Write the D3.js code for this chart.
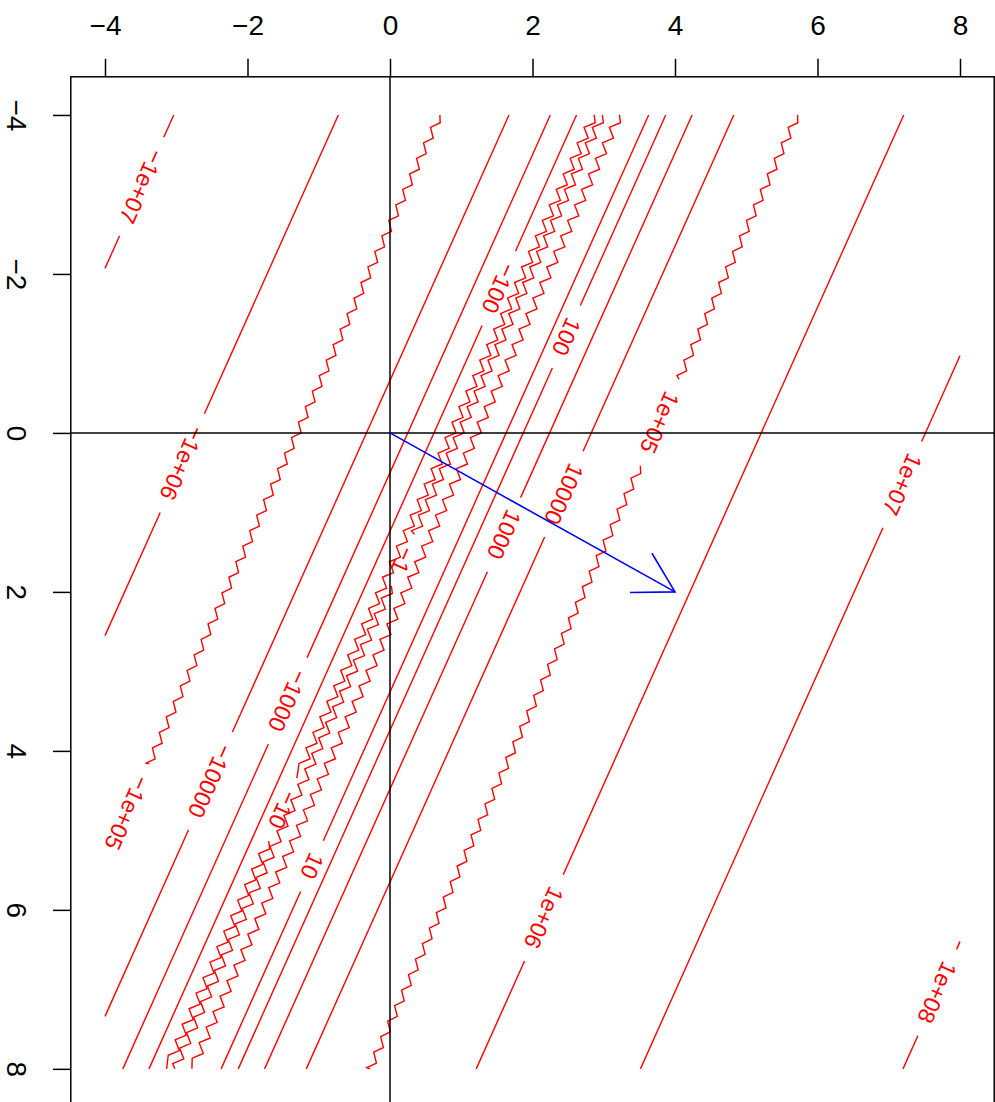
<!DOCTYPE html>
<html><head><meta charset="utf-8">
<script src="https://cdn.jsdelivr.net/npm/d3@7"></script>
<style>body{margin:0;background:#fff} svg{display:block}</style>
</head><body><svg id="c" width="995" height="1102"></svg>
<script>
// ---- data ----
const xTicks = [-4, -2, 0, 2, 4, 6, 8];
const yTicks = [-4, -2, 0, 2, 4, 6, 8];
const dataExtent = [-4, 8];
const levelValues = [-1e7, -1e6, -1e5, -1e4, -1e3, -100, -10, -1, 1, 10, 100, 1e3, 1e4, 1e5, 1e6, 1e7, 1e8];
const levelLabels = ["\u22121e+07", "\u22121e+06", "\u22121e+05", "\u221210000", "\u22121000", "\u2212100", "\u221210", "\u22121", "1", "10", "100", "1000", "10000", "1e+05", "1e+06", "1e+07", "1e+08"];
// each contour is (nearly) the straight line 2x + y = intercept
const levelIntercepts = [-10.07, -5.45, -2.6, -0.66, 0.5, 1.235, 1.73, 1.96, 2.44, 3.26, 3.74, 4.48, 5.65, 7.44, 10.42, 15.03, 22.4];
// y (data units) of each contour label's centre; null = no label visible
const labelAtY = [-3.1, 0.38, 4.78, 4.38, 3.37, -1.82, 4.74, 1.6, null, 5.45, -1.21, 1.28, 0.77, -0.13, 6.1, 0.65, 7.04];
const noisyLevels = [-1e5, -10, -1, 1, 1e5];
const arrowFrom = [0, 0];
const arrowTo = [4, 2];

// ---- layout / style ----
const FONT = "'Liberation Sans', Arial, Helvetica, sans-serif";
const RED = "#ff0000", BLUE = "#0000ff";
const svg = d3.select("#c");
const span = dataExtent[1] - dataExtent[0];
const pad = 0.04 * span;
const x = d3.scaleLinear().domain([dataExtent[0] - pad, dataExtent[1] + pad]).range([70.8, 994.2]);
const y = d3.scaleLinear().domain([dataExtent[0] - pad, dataExtent[1] + pad]).range([76.8, 1107]);

const line = d3.line();

function jagPoints(A, B, amp, period) {
  const dx = B[0] - A[0], dy = B[1] - A[1], L = Math.hypot(dx, dy);
  if (L < 1) return [A, B];
  const ux = dx / L, uy = dy / L;
  const pts = [A];
  for (let t = period * 0.5; t < L - period * 0.3; t += period) {
    pts.push([A[0] + ux * t + amp, A[1] + uy * t]);
    const t2 = t + period * 0.3;
    pts.push([A[0] + ux * t2 - amp, A[1] + uy * t2]);
  }
  pts.push(B);
  return pts;
}

const gC = svg.append("g");
const gL = svg.append("g");

levelValues.forEach((lev, i) => {
  const u = levelIntercepts[i];
  const ya = Math.max(dataExtent[0], u - 2 * dataExtent[1]);
  const yb = Math.min(dataExtent[1], u - 2 * dataExtent[0]);
  if (ya >= yb) return;
  const P0 = [x((u - ya) / 2), y(ya)];
  const P1 = [x((u - yb) / 2), y(yb)];
  const L = Math.hypot(P1[0] - P0[0], P1[1] - P0[1]);
  const ux = (P1[0] - P0[0]) / L, uy = (P1[1] - P0[1]) / L;
  let segs = [[0, L]];
  if (labelAtY[i] !== null) {
    const ly = labelAtY[i];
    const Pc = [x((u - ly) / 2), y(ly)];
    const ang = Math.atan2(uy, ux) * 180 / Math.PI;
    const t = gL.append("text")
      .attr("transform", `translate(${Pc[0]},${Pc[1]}) rotate(${ang})`)
      .attr("text-anchor", "middle")
      .attr("dominant-baseline", "central")
      .attr("font-family", FONT)
      .attr("font-size", 23)
      .attr("fill", RED)
      .text(levelLabels[i]);
    const len = t.node().getComputedTextLength();
    const half = (len + 30) / 2;
    const tc = Math.hypot(Pc[0] - P0[0], Pc[1] - P0[1]);
    segs = [[0, tc - half], [tc + half, L]].filter(s => s[1] - s[0] > 0.5);
  }
  const noisy = noisyLevels.includes(lev);
  const amp = Math.abs(lev) >= 1e5 ? 3.8 : 4.5;
  segs.forEach(s => {
    const A = [P0[0] + ux * s[0], P0[1] + uy * s[0]];
    const B = [P0[0] + ux * Math.min(s[1], L), P0[1] + uy * Math.min(s[1], L)];
    const pts = noisy ? jagPoints(A, B, amp, 17) : [A, B];
    gC.append("path").attr("d", line(pts))
      .attr("fill", "none").attr("stroke", RED).attr("stroke-width", 1.4)
      .attr("stroke-linejoin", "miter");
  });
});

// reference lines at x=0 and y=0
svg.append("line").attr("x1", x(0)).attr("x2", x(0)).attr("y1", y.range()[0]).attr("y2", y.range()[1])
  .attr("stroke", "#000").attr("stroke-width", 1.5);
svg.append("line").attr("y1", y(0)).attr("y2", y(0)).attr("x1", x.range()[0]).attr("x2", x.range()[1])
  .attr("stroke", "#000").attr("stroke-width", 1.5);

// arrow
const A0 = [x(arrowFrom[0]), y(arrowFrom[1])], A1 = [x(arrowTo[0]), y(arrowTo[1])];
const th = Math.atan2(A1[1] - A0[1], A1[0] - A0[0]);
const hl = 45, ha = Math.PI / 6;
const gA = svg.append("g").attr("stroke", BLUE).attr("stroke-width", 1.6).attr("fill", "none");
gA.append("path").attr("d", line([A0, A1]));
gA.append("path").attr("d", line([
  [A1[0] - hl * Math.cos(th - ha), A1[1] - hl * Math.sin(th - ha)],
  A1,
  [A1[0] - hl * Math.cos(th + ha), A1[1] - hl * Math.sin(th + ha)]
]));

// box
svg.append("rect").attr("x", x.range()[0]).attr("y", y.range()[0])
  .attr("width", x.range()[1] - x.range()[0]).attr("height", y.range()[1] - y.range()[0])
  .attr("fill", "none").attr("stroke", "#000").attr("stroke-width", 1.5);

// axes
const gx = svg.append("g").attr("transform", `translate(0,${y.range()[0]})`)
  .call(d3.axisTop(x).tickValues(xTicks).tickSizeInner(18).tickSizeOuter(0).tickPadding(24));
gx.select(".domain").remove();
gx.attr("font-size", 28).attr("font-family", FONT);
gx.selectAll("line").attr("stroke-width", 1.5);

const gy = svg.append("g").attr("transform", `translate(${x.range()[0]},0)`)
  .call(d3.axisLeft(y).tickValues(yTicks).tickSizeInner(17.8).tickSizeOuter(0));
gy.select(".domain").remove();
gy.attr("font-size", 28).attr("font-family", FONT);
gy.selectAll("line").attr("stroke-width", 1.5);
gy.selectAll("text").attr("x", 0).attr("dy", 0)
  .attr("transform", "translate(-64,0) rotate(90)")
  .attr("text-anchor", "middle");
</script>
</body></html>
